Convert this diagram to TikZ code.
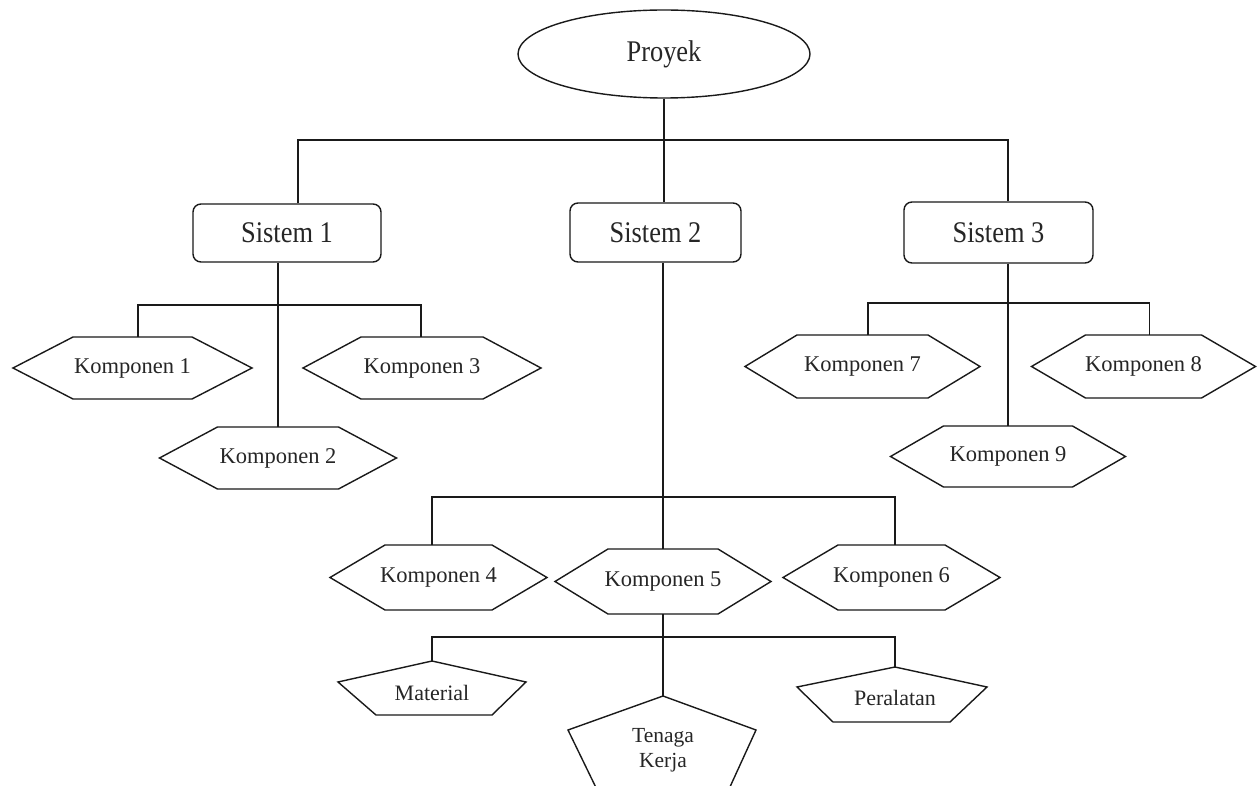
\documentclass[tikz,border=0pt]{standalone}
\usepackage{fontspec}
\setmainfont{Liberation Serif}
\newfontfamily\condf[FakeStretch=0.88]{Liberation Serif}
\usetikzlibrary{shapes.geometric,calc}
\definecolor{linec}{HTML}{1A1A1A}
\definecolor{textc}{HTML}{262626}
\tikzset{
  shapeline/.style={draw=linec, line width=1.4pt, line join=miter},
  conn/.style={draw=linec, line width=1.4pt},
  hexnode/.style={inner sep=0pt, text=textc, font=\fontsize{22.5}{24}\selectfont},
  pentnode/.style={inner sep=0pt, text=textc, font=\fontsize{22}{25}\selectfont, align=center},
  sysbox/.style={draw=linec, line width=1.4pt, rounded corners=8pt, inner sep=0pt, text=textc, font=\condf\fontsize{30}{32}\selectfont},
  topnode/.style={ellipse, draw=linec, line width=1.4pt, inner sep=0pt, text=textc, font=\condf\fontsize{30}{32}\selectfont},
}
% hexagon around node #1: half width #2, half height #3, slant #4
\newcommand\hexpath[4]{%
  \draw[shapeline] ($(#1)+({-(#2)+(#4)},{-(#3)})$) -- ($(#1)+({(#2)-(#4)},{-(#3)})$)
    -- ($(#1)+({#2},0)$) -- ($(#1)+({(#2)-(#4)},{#3})$) -- ($(#1)+({-(#2)+(#4)},{#3})$)
    -- ($(#1)+({-(#2)},0)$) -- cycle;}
\begin{document}
\begin{tikzpicture}[x=1pt,y=-1pt]
\fill[white] (0,0) rectangle (1258,786);
\useasboundingbox (0,0) rectangle (1258,786);
\clip (0,0) rectangle (1258,786);

% top level
\node[topnode, minimum width=292pt, minimum height=88pt] (p) at (664,54) {Proyek};
\node[sysbox, minimum width=188pt, minimum height=58pt] (s1) at (287,233) {Sistem 1};
\node[sysbox, minimum width=171pt, minimum height=59pt] (s2) at (655.5,232.5) {Sistem 2};
\node[sysbox, minimum width=189pt, minimum height=61pt] (s3) at (998.5,232.5) {Sistem 3};

% components
\node[hexnode, minimum height=62pt] (k1) at (132.5,368) {Komponen 1};
\node[hexnode, minimum height=62pt] (k2) at (278,458) {Komponen 2};
\node[hexnode, minimum height=62pt] (k3) at (422,368) {Komponen 3};
\node[hexnode, minimum height=65pt] (k4) at (438.5,577.5) {Komponen 4};
\node[hexnode, minimum height=65pt] (k5) at (663,581.5) {Komponen 5};
\node[hexnode, minimum height=65pt] (k6) at (891.5,577.5) {Komponen 6};
\node[hexnode, minimum height=63pt] (k7) at (862.5,366.5) {Komponen 7};
\node[hexnode, minimum height=63pt] (k8) at (1143.5,366.5) {Komponen 8};
\node[hexnode, minimum height=61pt] (k9) at (1008,456.5) {Komponen 9};

\hexpath{k1}{119.5}{31}{60}
\hexpath{k2}{118.5}{31}{58}
\hexpath{k3}{119}{31}{58}
\hexpath{k4}{108.5}{32.5}{55}
\hexpath{k5}{108}{32.5}{53}
\hexpath{k6}{108.5}{32.5}{55}
\hexpath{k7}{117.5}{31.5}{52}
\hexpath{k8}{112}{31.5}{54}
\hexpath{k9}{117.5}{30.5}{53}

% resources
\node[pentnode, minimum height=64pt] (mat) at (432,693) {Material};
\node[pentnode, minimum height=108pt, font=\fontsize{21.5}{25}\selectfont] (tk) at (663,750) {Tenaga\\Kerja};
\node[pentnode, minimum height=62pt] (per) at (895,698) {Peralatan};

\draw[shapeline] ($(mat)+(0,-32)$) -- ($(mat)+(94,-11)$) -- ($(mat)+(60,22)$) -- ($(mat)+(-56,22)$) -- ($(mat)+(-94,-11)$) -- cycle;
\draw[shapeline] ($(tk)+(0,-54)$) -- ($(tk)+(93,-20)$) -- ($(tk)+(61,50)$) -- ($(tk)+(-61,50)$) -- ($(tk)+(-95,-20)$) -- cycle;
\draw[shapeline] ($(per)+(0,-31)$) -- ($(per)+(92,-11)$) -- ($(per)+(55,24)$) -- ($(per)+(-62,24)$) -- ($(per)+(-98,-11)$) -- cycle;

% junctions
\coordinate (jt) at (664,140);
\coordinate (j1) at (278,305);
\coordinate (j2) at (663,497);
\coordinate (j3) at (663,637);
\coordinate (j4) at (1008,303);

% connectors
\draw[conn] (p.south) -- (p.south |- s2.north);
\draw[conn] ([xshift=11pt]s1.north) |- (jt) -| ([xshift=9.5pt]s3.north);

\draw[conn] (s1.south -| k2.north) -- (k2.north);
\draw[conn] ([xshift=5.5pt]k1.north) |- (j1) -| ([xshift=-1pt]k3.north);

\draw[conn] (s2.south -| k5.north) -- (k5.north);
\draw[conn] ([xshift=-6.5pt]k4.north) |- (j2) -| ([xshift=3.5pt]k6.north);

\draw[conn] (k5.south) -- (tk.north);
\draw[conn] (mat.north) |- (j3) -| (per.north);

\draw[conn] (s3.south -| k9.north) -- (k9.north);
\draw[conn] ([xshift=5.5pt]k7.north) |- (j4) -| ([xshift=6pt]k8.north);
\end{tikzpicture}
\end{document}
